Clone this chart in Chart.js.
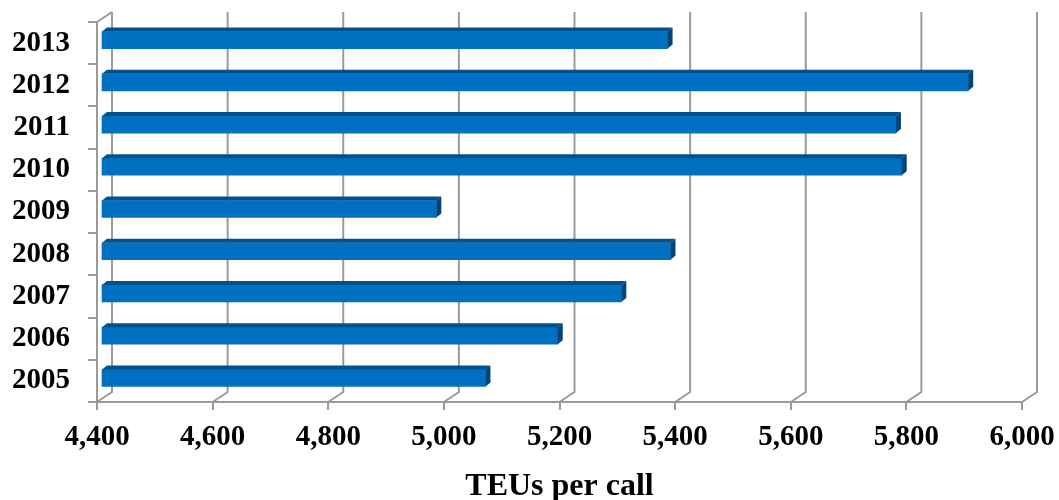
<!DOCTYPE html>
<html>
<head>
<meta charset="utf-8">
<script src="https://cdn.jsdelivr.net/npm/chart.js@4.4.0/dist/chart.umd.min.js"></script>
<style>
  html, body { margin: 0; padding: 0; background: #ffffff; }
  #wrap { width: 1059px; height: 500px; position: relative; }
</style>
</head>
<body>
<div id="wrap"><canvas id="teuChart"></canvas></div>
<script>
// TEUs per call, 2005 - 2013 (barres horizontales façon 3D)
const years = ['2013', '2012', '2011', '2010', '2009', '2008', '2007', '2006', '2005'];
const teusPerCall = [5380, 5900, 5775, 5785, 4980, 5385, 5300, 5190, 5065];
const xTicks = [4400, 4600, 4800, 5000, 5200, 5400, 5600, 5800, 6000];

const gridGray = '#9a9a9a';
const depthX = 15, depthY = 10;   // profondeur du mur du fond
const barDx = 5, barDy = 4;       // épaisseur 3D des barres

const fontFamily = '"Liberation Serif", "DejaVu Serif", serif';

// mur du fond + lignes de grille décalées
const wallPlugin = {
    id: 'wall3d',
    beforeDatasetsDraw(chart) {
        const { ctx, chartArea, scales } = chart;
        ctx.save();
        ctx.strokeStyle = gridGray;
        ctx.lineWidth = 2;
        xTicks.forEach(v => {
            const x = scales.x.getPixelForValue(v);
            ctx.beginPath();
            ctx.moveTo(x, chartArea.bottom);
            ctx.lineTo(x + depthX, chartArea.bottom - depthY);
            ctx.lineTo(x + depthX, chartArea.top - depthY);
            ctx.stroke();
        });
        // arête haute du mur de gauche
        const x0 = scales.x.getPixelForValue(xTicks[0]);
        ctx.beginPath();
        ctx.moveTo(x0, chartArea.top);
        ctx.lineTo(x0 + depthX, chartArea.top - depthY);
        ctx.stroke();
        ctx.restore();

        ctx.save();
        ctx.translate(4, -3);
    },
    afterDatasetsDraw(chart) {
        const { ctx } = chart;
        const meta = chart.getDatasetMeta(0);
        meta.data.forEach(bar => {
            const top = bar.y - bar.height / 2;
            const bottom = bar.y + bar.height / 2;
            // face du dessus
            ctx.fillStyle = '#00528c';
            ctx.beginPath();
            ctx.moveTo(bar.base, top);
            ctx.lineTo(bar.x, top);
            ctx.lineTo(bar.x + barDx, top - barDy);
            ctx.lineTo(bar.base + barDx, top - barDy);
            ctx.closePath();
            ctx.fill();
            // face de côté
            ctx.fillStyle = '#00447a';
            ctx.beginPath();
            ctx.moveTo(bar.x, top);
            ctx.lineTo(bar.x + barDx, top - barDy);
            ctx.lineTo(bar.x + barDx, bottom - barDy);
            ctx.lineTo(bar.x, bottom);
            ctx.closePath();
            ctx.fill();
        });
        ctx.restore();
    }
};

const ctx = document.getElementById('teuChart').getContext('2d');

new Chart(ctx, {
    type: 'bar',
    data: {
        labels: years,
        datasets: [{
            label: 'TEUs per call',
            data: teusPerCall,
            backgroundColor: '#0070c0',
            borderWidth: 0,
            barThickness: 17,
            base: 4400
        }]
    },
    options: {
        indexAxis: 'y',
        responsive: true,
        maintainAspectRatio: false,
        animation: false,
        layout: { padding: { top: 22, right: 37, left: 6, bottom: 0 } },
        plugins: {
            legend: { display: false },
            tooltip: { enabled: false }
        },
        scales: {
            x: {
                min: 4400,
                max: 6000,
                afterBuildTicks: axis => { axis.ticks = xTicks.map(v => ({ value: v })); },
                afterFit: axis => {
                    axis.height = 98;
                    axis.paddingLeft = 0;
                    axis.paddingRight = 0;
                },
                grid: { drawOnChartArea: false, drawTicks: true, tickLength: 8, color: gridGray, lineWidth: 2 },
                border: { display: true, color: gridGray, width: 2 },
                ticks: {
                    color: '#000000',
                    padding: 10,
                    maxRotation: 0,
                    font: { family: fontFamily, size: 29, weight: 'bold' },
                    callback: v => v.toLocaleString('en-US')
                },
                title: {
                    display: true,
                    text: 'TEUs per call',
                    color: '#000000',
                    padding: { top: 20, bottom: 0 },
                    font: { family: fontFamily, size: 32, weight: 'bold', lineHeight: 0.8 }
                }
            },
            y: {
                afterFit: axis => {
                    axis.width = 91;
                    axis.paddingTop = 0;
                    axis.paddingBottom = 0;
                },
                grid: { drawOnChartArea: false, drawTicks: true, tickLength: 9, color: gridGray, lineWidth: 2, offset: true },
                border: { display: true, color: gridGray, width: 2 },
                ticks: {
                    color: '#000000',
                    padding: 18,
                    font: { family: fontFamily, size: 29, weight: 'bold' }
                }
            }
        }
    },
    plugins: [wallPlugin]
});
</script>
</body>
</html>
